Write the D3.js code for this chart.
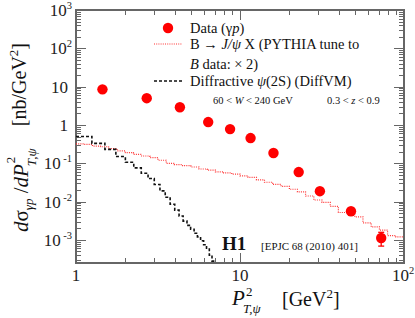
<!DOCTYPE html>
<html>
<head>
<meta charset="utf-8">
<script src="https://cdn.jsdelivr.net/npm/d3@7"></script>
<style>
  body { margin: 0; background: #fff; }
  svg text { font-family: "Liberation Serif", "DejaVu Serif", serif; }
</style>
</head>
<body>
<div id="chart"></div>
<script>
// H1 data: psi(2S) photoproduction, dsigma/dPT^2
var dataX = [1.45, 2.7, 4.3, 6.4, 8.7, 11.6, 16, 22.8, 30.7, 47.5, 72.6];
var dataY = [8.5, 5.0, 2.9, 1.19, 0.78, 0.455, 0.185, 0.059, 0.0187, 0.0056, 0.00112];
var dataErrLo = [0, 0, 0, 0, 0, 0, 0, 0, 0, 0.0012, 0.00043];
var dataErrHi = [0, 0, 0, 0, 0, 0, 0, 0, 0, 0.0012, 0.00046];

// B -> J/psi X (PYTHIA), bin edges and contents
var bEdges = [1, 1.12, 1.26, 1.41, 1.58, 1.78, 2.0, 2.24, 2.51, 2.82, 3.16, 3.55, 3.98, 4.47, 5.01, 5.62,
  6.31, 7.08, 7.94, 8.91, 10, 11.2, 12.6, 14.1, 15.8, 17.8, 20.0, 22.4, 25.1, 28.2, 31.6, 35.5, 39.8,
  44.7, 50.1, 56.2, 63.1, 70.8, 79.4, 89.1, 100];
var bVals = [0.32, 0.31, 0.28, 0.27, 0.24, 0.21, 0.19, 0.17, 0.155, 0.14, 0.12, 0.10, 0.092, 0.087,
  0.080, 0.071, 0.066, 0.060, 0.056, 0.052, 0.047, 0.043, 0.037, 0.032, 0.028, 0.025, 0.021, 0.018,
  0.014, 0.011, 0.0095, 0.0075, 0.0052, 0.0058, 0.0040, 0.0028, 0.0022, 0.0018, 0.0013, 0.0012];

// Diffractive psi(2S) (DiffVM)
var dEdges = [1, 1.25, 1.5, 1.75, 2, 2.25, 2.5, 2.75, 3, 3.25, 3.5, 3.75, 4, 4.25, 4.5, 4.75, 5,
  5.25, 5.5, 5.75, 6, 6.25, 6.5, 6.75, 7];
var dVals = [0.50, 0.33, 0.23, 0.15, 0.106, 0.076, 0.055, 0.040, 0.028, 0.019, 0.013, 0.0085, 0.0060,
  0.0042, 0.0031, 0.0024, 0.0019, 0.0015, 0.0012, 0.00095, 0.00075, 0.00058, 0.00040, 0.00028];

var xMajor = [1, 10, 100];
var xMajorExp = ["", "", "2"];
var yMajor = [1e-3, 1e-2, 1e-1, 1, 10, 100, 1000];
var yMajorExp = ["-3", "-2", "-1", "", "", "2", "3"];

var W = 415, H = 318;
var margin = {top: 10, right: 11, bottom: 55, left: 76};
var width = W - margin.left - margin.right,
    height = H - margin.top - margin.bottom;

var svg = d3.select("#chart").append("svg")
    .attr("width", W)
    .attr("height", H);

var x = d3.scaleLog().domain([1, 100]).range([margin.left, margin.left + width]);
var y = d3.scaleLog().domain([0.00025, 1000]).range([margin.top + height, margin.top]);

var frameCol = "#666";

// clip for the histograms
svg.append("clipPath").attr("id", "clip")
  .append("rect")
    .attr("x", margin.left).attr("y", margin.top)
    .attr("width", width).attr("height", height);

// minor / major ticks
var xTicks = [];
[1, 10].forEach(function(d) {
  for (var k = 1; k < 10; k++) xTicks.push({v: d * k, major: k == 1});
});
xTicks.push({v: 100, major: true});
var yTicks = [];
[1e-4, 1e-3, 1e-2, 1e-1, 1, 10, 100].forEach(function(d) {
  for (var k = 1; k < 10; k++) {
    var v = d * k;
    if (v >= 0.00025) yTicks.push({v: v, major: k == 1});
  }
});
yTicks.push({v: 1000, major: true});

var ticks = svg.append("g").attr("stroke", frameCol).attr("stroke-width", 1);
xTicks.forEach(function(t) {
  var len = t.major ? 10 : 5;
  var px = Math.round(x(t.v)) + 0.5;
  ticks.append("line").attr("x1", px).attr("x2", px)
    .attr("y1", margin.top + height).attr("y2", margin.top + height - len);
  ticks.append("line").attr("x1", px).attr("x2", px)
    .attr("y1", margin.top).attr("y2", margin.top + len);
});
yTicks.forEach(function(t) {
  var len = t.major ? 10 : 5;
  var py = Math.round(y(t.v)) + 0.5;
  ticks.append("line").attr("y1", py).attr("y2", py)
    .attr("x1", margin.left).attr("x2", margin.left + len);
  ticks.append("line").attr("y1", py).attr("y2", py)
    .attr("x1", margin.left + width).attr("x2", margin.left + width - len);
});

// frame
svg.append("rect")
  .attr("x", margin.left).attr("y", margin.top)
  .attr("width", width).attr("height", height)
  .attr("fill", "none").attr("stroke", frameCol).attr("stroke-width", 2);

// tick labels
xMajor.forEach(function(v, i) {
  var t = svg.append("text")
    .attr("x", x(v) - (xMajorExp[i] ? 1 : 0)).attr("y", 281)
    .attr("text-anchor", "middle")
    .attr("font-size", 17).attr("fill", "#222");
  t.append("tspan").text(v == 100 ? "10" : v);
  if (xMajorExp[i]) t.append("tspan").attr("font-size", 10.5).attr("dy", -7).text(xMajorExp[i]);
});
yMajor.forEach(function(v, i) {
  var t = svg.append("text")
    .attr("x", yMajorExp[i] ? 72 : 68).attr("y", y(v) + 6)
    .attr("text-anchor", "end")
    .attr("font-size", 17).attr("fill", "#222");
  t.append("tspan").text(v >= 10 || v < 1 ? "10" : "1");
  if (yMajorExp[i]) t.append("tspan").attr("font-size", 10.5).attr("dy", -7)
    .text((yMajorExp[i][0] == "-" ? " " : "") + yMajorExp[i]);
});

// histogram as step path
function stepPath(edges, vals) {
  var p = "";
  vals.forEach(function(v, i) {
    var x0 = x(edges[i]), x1 = x(edges[i + 1]), yy = y(v);
    p += (i == 0 ? "M" : "L") + x0 + "," + yy + "L" + x1 + "," + yy;
  });
  return p;
}

var plot = svg.append("g").attr("clip-path", "url(#clip)");

plot.append("path")
  .attr("d", stepPath(bEdges, bVals))
  .attr("fill", "none").attr("stroke", "#f33")
  .attr("stroke-width", 1.2).attr("stroke-dasharray", "1,1.2");

plot.append("path")
  .attr("d", stepPath(dEdges, dVals) + "L" + x(7) + "," + (margin.top + height))
  .attr("fill", "none").attr("stroke", "#111")
  .attr("stroke-width", 1.6).attr("stroke-dasharray", "3,2");

// data points
var pts = dataX.map(function(d, i) {
  return {x: d, y: dataY[i], lo: dataErrLo[i], hi: dataErrHi[i]};
});
var eb = plot.append("g").attr("stroke", "#f00").attr("stroke-width", 1.3);
pts.filter(function(d) { return d.lo > 0; }).forEach(function(d) {
  var px = x(d.x);
  eb.append("line").attr("x1", px).attr("x2", px)
    .attr("y1", y(d.y - d.lo)).attr("y2", y(d.y + d.hi));
  eb.append("line").attr("x1", px - 3).attr("x2", px + 3)
    .attr("y1", y(d.y - d.lo)).attr("y2", y(d.y - d.lo));
  eb.append("line").attr("x1", px - 3).attr("x2", px + 3)
    .attr("y1", y(d.y + d.hi)).attr("y2", y(d.y + d.hi));
});
plot.selectAll("circle.pt")
  .data(pts)
  .enter().append("circle")
    .attr("class", "pt")
    .attr("cx", function(d) { return x(d.x); })
    .attr("cy", function(d) { return y(d.y); })
    .attr("r", 5.2)
    .attr("fill", "#f00");

// legend
var lg = svg.append("g").attr("font-size", 14.5).attr("fill", "#111");
lg.append("circle").attr("cx", 168).attr("cy", 28).attr("r", 5.2).attr("fill", "#f00");
var t1 = lg.append("text").attr("x", 190).attr("y", 33);
t1.append("tspan").text("Data (γ");
t1.append("tspan").attr("font-style", "italic").text("p");
t1.append("tspan").text(")");

lg.append("line").attr("x1", 154).attr("x2", 182).attr("y1", 44).attr("y2", 44)
  .attr("stroke", "#f33").attr("stroke-width", 1.2).attr("stroke-dasharray", "1,1.2");
var t2 = lg.append("text").attr("x", 190).attr("y", 49);
t2.append("tspan").text("B → ");
t2.append("tspan").attr("font-style", "italic").text("J/ψ");
t2.append("tspan").text(" X (PYTHIA tune to");
var t3 = lg.append("text").attr("x", 190).attr("y", 69);
t3.append("tspan").attr("font-style", "italic").text("B");
t3.append("tspan").text(" data: × 2)");

lg.append("line").attr("x1", 154).attr("x2", 182).attr("y1", 81).attr("y2", 81)
  .attr("stroke", "#111").attr("stroke-width", 1.6).attr("stroke-dasharray", "3,2");
var t4 = lg.append("text").attr("x", 190).attr("y", 86);
t4.append("tspan").text("Diffractive ");
t4.append("tspan").attr("font-style", "italic").text("ψ");
t4.append("tspan").text("(2S) (DiffVM)");

// kinematic range
var k1 = svg.append("text").attr("x", 213).attr("y", 104).attr("font-size", 10.5).attr("fill", "#111");
k1.append("tspan").text("60 < ");
k1.append("tspan").attr("font-style", "italic").text("W");
k1.append("tspan").text(" < 240 GeV");
var k2 = svg.append("text").attr("x", 327).attr("y", 104).attr("font-size", 10.5).attr("fill", "#111");
k2.append("tspan").text("0.3 < ");
k2.append("tspan").attr("font-style", "italic").text("z");
k2.append("tspan").text(" < 0.9");

svg.append("text").attr("x", 222).attr("y", 250)
  .attr("font-size", 19).attr("font-weight", "bold").attr("fill", "#111").text("H1");
svg.append("text").attr("x", 261).attr("y", 250)
  .attr("font-size", 11).attr("fill", "#111").text("[EPJC 68 (2010) 401]");

// x axis title
var xt = svg.append("g").attr("fill", "#111");
xt.append("text").attr("x", 232).attr("y", 305).attr("font-size", 21)
  .attr("font-style", "italic").text("P");
xt.append("text").attr("x", 246).attr("y", 296).attr("font-size", 13).text("2");
xt.append("text").attr("x", 243).attr("y", 313).attr("font-size", 13)
  .attr("font-style", "italic").text("T,ψ");
var xt2 = xt.append("text").attr("x", 282).attr("y", 306).attr("font-size", 20);
xt2.append("tspan").text("[GeV");
xt2.append("tspan").attr("font-size", 13).attr("dy", -8).text("2");
xt2.append("tspan").attr("dy", 8).text("]");

// y axis title (rotated)
var yt = svg.append("g").attr("fill", "#111")
  .attr("transform", "translate(28,232) rotate(-90)");
var y1 = yt.append("text").attr("x", 0).attr("y", 0).attr("font-size", 21);
y1.append("tspan").attr("font-style", "italic").text("d");
y1.append("tspan").text("σ");
y1.append("tspan").attr("font-size", 13).attr("dy", 5).attr("font-style", "italic").text("γp");
y1.append("tspan").attr("dy", -5).text(" /");
y1.append("tspan").attr("font-style", "italic").text("dP");
var w1 = y1.node().getComputedTextLength();
yt.append("text").attr("x", w1 + 1).attr("y", -13).attr("font-size", 13).text("2");
yt.append("text").attr("x", w1 - 2).attr("y", 8).attr("font-size", 13)
  .attr("font-style", "italic").text("T,ψ");
var y2 = yt.append("text").attr("x", w1 + 38).attr("y", -2).attr("font-size", 20);
y2.append("tspan").text("[nb/GeV");
y2.append("tspan").attr("font-size", 13).attr("dy", -8).text("2");
y2.append("tspan").attr("dy", 8).text("]");
</script>
</body>
</html>
